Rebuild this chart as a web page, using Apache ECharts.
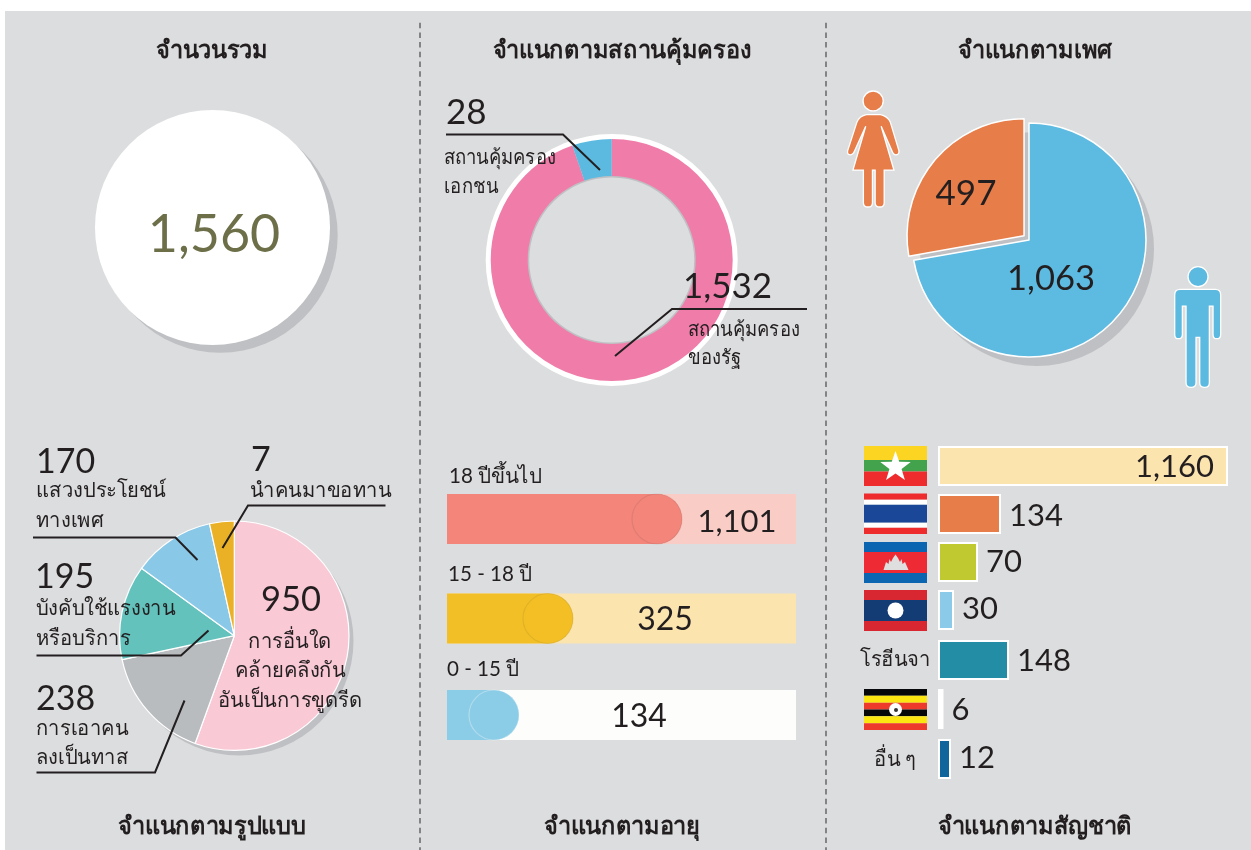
<!DOCTYPE html>
<html>
<head>
<meta charset="utf-8">
<title>chart</title>
<style>
html, body { margin: 0; padding: 0; background: #fff; }
#main { width: 1251px; height: 850px; }
</style>
<script src="https://cdn.jsdelivr.net/npm/echarts@6/dist/echarts.min.js"></script>
</head>
<body>
<div id="main"></div>
<script>
// the figures printed on the picture, and the sizes the slices/bars are really drawn at
// (the original infographic is not to scale so the two differ)
var totalValue = [1560];
var panelTitles = ['จำนวนรวม', 'จำแนกตามสถานคุ้มครอง', 'จำแนกตามเพศ', 'จำแนกตามรูปแบบ', 'จำแนกตามอายุ', 'จำแนกตามสัญชาติ'];

var shelterValues = [1532, 28];
var shelterDrawn = [341, 19];

var genderValues = [1063, 497];
var genderDrawn = [260, 100];

var formValues = [950, 238, 195, 170, 7];
var formDrawn = [200, 58, 48, 41.5, 12.5];

var ageNames = ['18 ปีขึ้นไป', '15 - 18 ปี', '0 - 15 ปี'];
var ageValues = [1101, 325, 134];
var ageDrawn = [235, 126, 72];
var ageTrack = [349, 349, 349];

var nationNames = ['เมียนมา', 'ไทย', 'กัมพูชา', 'ลาว', 'โรฮีนจา', 'ยูกันดา', 'อื่น ๆ'];
var nationValues = [1160, 134, 70, 30, 148, 6, 12];
var nationDrawn = [290, 63, 40, 16, 71, 5.5, 13];

var numFont = 'Lato, "Noto Sans", sans-serif';
var ink = '#231f20';
var shadow = '#bfc0c3';

function fmt(v) { return v.toLocaleString('en-US'); }

// scaleX squeezes the thai text a little, the fallback face runs wider than the original
function txt(x, y, str, size, align, color, weight, scaleX) {
    return {
        type: 'text', x: x, y: y, z: 20, silent: true, scaleX: scaleX || 1,
        style: {
            text: str, fontSize: size, fontFamily: numFont,
            fontWeight: weight || 'normal',
            fill: color || ink, align: align || 'left', verticalAlign: 'middle'
        }
    };
}
function thaiForm(x, y, str, align) { return txt(x, y, str, 21, align, ink, 'normal', 0.96); }
function thaiShelter(x, y, str) { return txt(x, y, str, 20, 'left', ink, 'normal', 0.925); }
function title(x, y, str) { return txt(x, y, str, 24, 'center', ink, 'bold', 0.98); }

function leader(points) {
    return {
        type: 'polyline', z: 19, silent: true,
        shape: { points: points },
        style: { stroke: '#231f20', lineWidth: 2, fill: null }
    };
}
function dash(x) {
    return {
        type: 'line', z: 1, silent: true,
        shape: { x1: x, y1: 22.7, x2: x, y2: 850 },
        style: { stroke: '#555', lineWidth: 1.3, lineDash: [5.5, 4.2] }
    };
}
function box(x, y, w, h, color) {
    return { type: 'rect', z: 5, silent: true, shape: { x: x, y: y, width: w, height: h }, style: { fill: color } };
}
// horizontal stripes of a flag, stops are the local y in 0..1
function flag(y, h, stripes) {
    var out = [];
    stripes.forEach(function (s) {
        out.push(box(864, y + s[0] * h, 63, (s[1] - s[0]) * h, s[2]));
    });
    return out;
}
function star(cx, cy, r) {
    var pts = [];
    for (var i = 0; i < 10; i++) {
        var a = -Math.PI / 2 + i * Math.PI / 5, rr = i % 2 ? r * 0.4 : r;
        pts.push([cx + rr * Math.cos(a), cy + rr * Math.sin(a)]);
    }
    return { type: 'polygon', z: 6, silent: true, shape: { points: pts }, style: { fill: '#fff' } };
}
function dot(cx, cy, r, color) {
    return { type: 'circle', z: 6, silent: true, shape: { cx: cx, cy: cy, r: r }, style: { fill: color } };
}
// person icons, the graphic component has no free path so they go through a custom series
function icon(name, path, color, x, y, w, h) {
    return {
        type: 'custom', name: name, coordinateSystem: 'none', silent: true, animation: false, z: 6,
        data: [0],
        renderItem: function () {
            return {
                type: 'path',
                shape: { pathData: path, layout: 'cover', x: x, y: y, width: w, height: h },
                style: { fill: color, stroke: '#fff', lineWidth: 1.3 }
            };
        }
    };
}

var womanPath = 'M130 62A30 30 0 1 1 70 62A30 30 0 1 1 130 62Z' +
    'M80 103L122 103Q142 107 151 125L177 212Q178 224 167 224Q160 224 156 212L124 138L162 270L133 270L133 368Q133 381 120 381Q106 381 106 368L106 270L98 270L98 368Q98 381 85 381Q71 381 71 368L71 270L40 270L78 138L45 212Q40 224 33 224Q22 224 24 212L52 125Q60 107 80 103Z';
var manPath = 'M1104 590A30 30 0 1 1 1044 590A30 30 0 1 1 1104 590Z' +
    'M1020 628L1126 628Q1142 628 1142 645L1142 763Q1142 776 1130 776Q1119 776 1119 763L1119 678L1108 678L1108 908Q1108 922 1094 922Q1079 922 1079 908L1079 772L1068 772L1068 908Q1068 922 1053 922Q1038 922 1038 908L1038 678L1027 678L1027 763Q1027 776 1015 776Q1004 776 1004 763L1004 645Q1004 628 1020 628Z';

var graphic = [
    { type: 'rect', z: -10, silent: true, shape: { x: 5, y: 11, width: 1246, height: 839 }, style: { fill: '#dcddde' } },
    dash(420), dash(826),

    title(212, 50, panelTitles[0]),
    title(622, 50, panelTitles[1]),
    title(1035, 50, panelTitles[2]),
    title(212, 826, panelTitles[3]),
    title(622, 826, panelTitles[4]),
    title(1035, 826, panelTitles[5]),

    txt(214, 235, fmt(totalValue[0]), 52, 'center', '#6d6f49'),

    // shelter
    txt(446, 113, fmt(shelterValues[1]), 35),
    thaiShelter(444, 158, 'สถานคุ้มครอง'),
    thaiShelter(444, 187, 'เอกชน'),
    leader([[446, 134.5], [563, 134.5], [600, 170]]),
    txt(683, 287, fmt(shelterValues[0]), 35),
    thaiShelter(688, 330, 'สถานคุ้มครอง'),
    thaiShelter(688, 358, 'ของรัฐ'),
    leader([[807, 309], [672, 309], [615, 356]]),

    // gender
    txt(966, 194, fmt(genderValues[1]), 35, 'center'),
    txt(1051, 279, fmt(genderValues[0]), 34.5, 'center'),

    // forms
    txt(36, 462, fmt(formValues[3]), 34),
    thaiForm(36, 490, 'แสวงประโยชน์'),
    thaiForm(36, 520, 'ทางเพศ'),
    leader([[33, 537.5], [175.5, 537.5], [197.5, 560]]),
    txt(251, 460, fmt(formValues[4]), 34),
    thaiForm(250, 490, 'นำคนมาขอทาน'),
    leader([[385.5, 505.5], [248, 505.5], [222.5, 548]]),
    txt(35, 577, fmt(formValues[2]), 34),
    thaiForm(36, 608, 'บังคับใช้แรงงาน'),
    thaiForm(36, 638, 'หรือบริการ'),
    leader([[36.5, 655.5], [181, 655.5], [208.5, 630.5]]),
    txt(36, 699, fmt(formValues[1]), 34),
    thaiForm(36, 728, 'การเอาคน'),
    thaiForm(36, 757, 'ลงเป็นทาส'),
    leader([[36.5, 772.5], [155, 772.5], [184.5, 700.5]]),
    txt(291, 600, fmt(formValues[0]), 34.5, 'center'),
    thaiForm(290, 641, 'การอื่นใด', 'center'),
    thaiForm(290, 670, 'คล้ายคลึงกัน', 'center'),
    thaiForm(290, 700, 'อันเป็นการขูดรีด', 'center'),

    // age
    txt(449, 476, ageNames[0], 21, 'left', ink, 'normal', 0.98),
    txt(448, 574, ageNames[1], 21, 'left', ink, 'normal', 0.98),
    txt(447, 669, ageNames[2], 21, 'left', ink, 'normal', 0.98),
    txt(737, 522, fmt(ageValues[0]), 31, 'center'),
    txt(665, 620, fmt(ageValues[1]), 32, 'center'),
    txt(639, 717, fmt(ageValues[2]), 32, 'center'),

    // row names without a flag
    txt(895, 659, nationNames[4], 21, 'center', ink, 'normal', 0.96),
    txt(895, 759, nationNames[6], 21, 'center', ink, 'normal', 0.96)
];

// flags
graphic = graphic.concat(
    flag(446, 40, [[0, .35, '#fcd422'], [.35, .64, '#43a24c'], [.64, 1, '#ee2c2e']]),
    [star(895.5, 467, 16)],
    flag(493.5, 40.5, [[0, .155, '#ee2c2e'], [.155, .28, '#fff'], [.28, .72, '#1b4798'], [.72, .845, '#fff'], [.845, 1, '#ee2c2e']]),
    flag(542, 41, [[0, .245, '#0c65b1'], [.245, .755, '#ee2b35'], [.755, 1, '#0c65b1']]),
    [{
        type: 'polygon', z: 6, silent: true,
        shape: { points: [[883.5, 570], [886, 562], [888.5, 564], [889.5, 559], [891, 562], [893, 558], [895.5, 554.5], [898, 558], [900, 562], [901.5, 559], [902.5, 564], [905, 562], [908.5, 570]] },
        style: { fill: '#dfdfdf' }
    }],
    flag(590, 41, [[0, .245, '#d92732'], [.245, .755, '#143c74'], [.755, 1, '#d92732']]),
    [dot(895.5, 610.5, 8, '#fff')],
    flag(689, 41, [[0, .167, '#050708'], [.167, .333, '#fce612'], [.333, .5, '#ee3a2a'], [.5, .667, '#050708'], [.667, .833, '#fce612'], [.833, 1, '#ee3a2a']]),
    [dot(895.5, 709.5, 6.5, '#fff'), dot(896, 710, 2, '#333')]
);

function solidPie(name, center, radius, color, z) {
    return {
        type: 'pie', name: name, center: center, radius: radius, z: z,
        silent: true, animation: false, label: { show: false }, labelLine: { show: false },
        data: [{ value: totalValue[0], itemStyle: { color: color } }]
    };
}
function slices(values, colors, extra) {
    return values.map(function (v, i) {
        var d = { value: v, itemStyle: { color: colors[i] } };
        if (extra && extra[i]) { d.selected = true; }
        return d;
    });
}

var series = [
    // total
    solidPie('total shadow', [220.2, 235.2], 117.5, shadow, 2),
    solidPie('total', [212.5, 227.5], 117.5, '#fff', 3),
    // shelter donut
    solidPie('ring', [611.7, 260], [120, 126], '#fff', 2),
    solidPie('ring inner', [611.7, 260], [82.5, 85], shadow, 3),
    {
        type: 'pie', name: 'shelter', center: [611.7, 260], radius: [84, 121], z: 4,
        startAngle: 90, silent: true, animation: false, label: { show: false }, labelLine: { show: false },
        data: slices(shelterDrawn, ['#f07da9', '#5cbae1'])
    },
    // gender
    solidPie('gender shadow', [1037, 249], 117, shadow, 2),
    {
        type: 'pie', name: 'gender', center: [1029, 240], radius: 117, z: 3,
        startAngle: 90, silent: true, animation: false, label: { show: false }, labelLine: { show: false },
        selectedMode: 'single', selectedOffset: 6.5,
        itemStyle: { borderColor: '#fff', borderWidth: 1.5 },
        data: slices(genderDrawn, ['#5dbae1', '#e77d49'], [false, true])
    },
    // forms
    solidPie('forms shadow', [239, 641], 114.5, shadow, 2),
    {
        type: 'pie', name: 'forms', center: [234.3, 635.7], radius: 114.7, z: 3,
        startAngle: 90, silent: true, animation: false, label: { show: false }, labelLine: { show: false },
        itemStyle: { borderColor: '#fff', borderWidth: 1.2 },
        data: slices(formDrawn, ['#f9c9d6', '#b8bcbf', '#64c2bd', '#8ac8e8', '#ebb126'])
    },
    // bbox of the icons
    icon('woman', womanPath, '#e77d49', 847.5, 91, 51.5, 116),
    icon('man', manPath, '#5cbae1', 1174.7, 266.7, 46, 120.7)
];

var grids = [], xAxes = [], yAxes = [];
function addGrid(left, width, top, height, max, name) {
    var idx = grids.length;
    grids.push({ left: left, top: top, width: width, height: height });
    xAxes.push({ type: 'value', gridIndex: idx, min: 0, max: max, show: false });
    yAxes.push({ type: 'category', gridIndex: idx, data: [name], show: false });
    return idx;
}

// age bars
var ageTops = [494, 593.5, 690];
var ageTrackColors = ['#f9cdc5', '#fce4ae', '#fdfdfb'];
var ageFillColors = ['#f3857a', '#f2bf26', '#8bcce6'];
var ageRings = ['rgba(120,80,80,0.18)', 'rgba(120,100,40,0.18)', 'rgba(255,255,255,0.4)'];
ageNames.forEach(function (name, i) {
    var g = addGrid(447, 349, ageTops[i], 50, ageTrack[i], name);
    series.push({
        type: 'bar', name: name + ' track', xAxisIndex: g, yAxisIndex: g, barWidth: 50, barGap: '-100%',
        silent: true, animation: false,
        itemStyle: { color: ageTrackColors[i] }, data: [ageTrack[i]]
    });
    series.push({
        type: 'bar', name: name, xAxisIndex: g, yAxisIndex: g, barWidth: 50, barGap: '-100%',
        silent: true, animation: false,
        itemStyle: { color: ageFillColors[i], borderRadius: [0, 25, 25, 0] }, data: [ageDrawn[i]]
    });
    series.push({
        type: 'scatter', name: name + ' cap', xAxisIndex: g, yAxisIndex: g, z: 3,
        symbol: 'circle', symbolSize: 50, symbolOffset: [-25, 0],
        silent: true, animation: false,
        itemStyle: { color: ageFillColors[i], borderColor: ageRings[i], borderWidth: 1.2 },
        data: [[ageDrawn[i], 0]]
    });
});

// nationality bars
var nationCenters = [466, 514, 562, 610, 660, 709, 759];
var nationLabelShift = [0.5, 1.5, 0, -1, 0.5, 0.5, -1];
var nationColors = ['#fbe4ae', '#e77d49', '#c0c92f', '#8bcbe9', '#238da6', '#ffffff', '#11659d'];
nationNames.forEach(function (name, i) {
    var g = addGrid(938, 290, nationCenters[i] - 20, 40, 290, name);
    var inside = i === 0;
    series.push({
        type: 'bar', name: name, xAxisIndex: g, yAxisIndex: g, barWidth: 40,
        silent: true, animation: false,
        itemStyle: { color: nationColors[i], borderColor: '#fff', borderWidth: 2 },
        label: {
            show: true, position: inside ? 'insideRight' : 'right', distance: inside ? 14 : 8,
            offset: [0, nationLabelShift[i]],
            fontFamily: numFont, fontSize: 31, color: ink,
            formatter: fmt(nationValues[i])
        },
        data: [nationDrawn[i]]
    });
});

var myChart = echarts.init(document.getElementById('main'), null, { renderer: 'canvas' });
myChart.setOption({
    backgroundColor: '#fff',
    animation: false,
    grid: grids,
    xAxis: xAxes,
    yAxis: yAxes,
    series: series,
    graphic: { elements: graphic }
});
</script>
</body>
</html>
